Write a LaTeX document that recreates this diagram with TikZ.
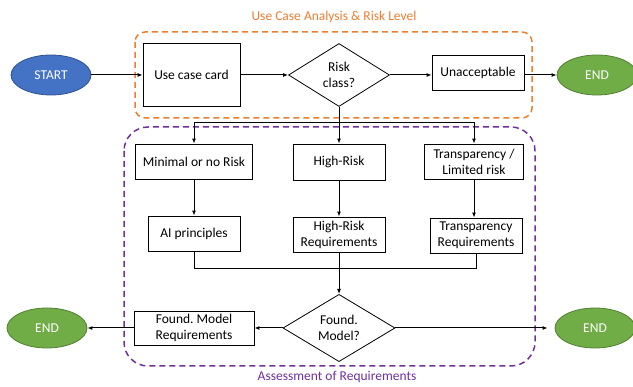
\documentclass[tikz,border=0pt]{standalone}
\usepackage{fontspec}
\setmainfont{Carlito}
\frenchspacing
\usetikzlibrary{shapes.geometric,arrows.meta}
\definecolor{myorange}{HTML}{ED7D31}
\definecolor{mypurple}{HTML}{7030A0}
\definecolor{myblue}{HTML}{4472C4}
\definecolor{myblueb}{HTML}{2F528F}
\definecolor{mygreen}{HTML}{70AD47}
\definecolor{mygreenb}{HTML}{507E32}
\begin{document}
\begin{tikzpicture}[x=1pt,y=-1pt,
  txt/.style={font=\fontsize{13.5}{16}\selectfont},
  box/.style={txt,draw,line width=0.8pt,rectangle,inner sep=0pt,align=center},
  dec/.style={txt,draw,line width=0.8pt,diamond,inner sep=0pt,align=center},
  term/.style={txt,ellipse,line width=0.8pt,inner sep=0pt,minimum width=80pt,minimum height=40pt,text=white},
  startnode/.style={term,fill=myblue,draw=myblueb},
  endnode/.style={term,fill=mygreen,draw=mygreenb},
  arr/.style={line width=1pt,-{Latex[length=5pt,width=4pt]}},
  conn/.style={line width=1pt},
  group/.style={line width=1.5pt,dash pattern=on 6pt off 4pt},
]
\useasboundingbox (0,0) rectangle (633,387);
% groups
\draw[group,draw=myorange,rounded corners=10pt] (135,32) rectangle (532,118);
\draw[group,draw=mypurple,rounded corners=24pt] (124,127) rectangle (535,366);
\node[txt,text=myorange] (t1) at (334,17) {Use Case Analysis \& Risk Level};
\node[txt,text=mypurple] (t2) at (337,377) {Assessment of Requirements};
% top row
\node[startnode] (start) at (51,75) {START};
\node[box,minimum width=97pt,minimum height=63pt] (card) at (191.5,75) {Use case card};
\node[dec,minimum width=101pt,minimum height=63pt] (risk) at (339,75) {Risk\\class?};
\node[box,minimum width=92pt,minimum height=35pt] (unacc) at (478,73) {Unacceptable};
\node[endnode] (end1) at (597,75) {END};
\draw[arr] (start) -- (card);
\draw[arr] (card) -- (risk);
\draw[arr] (risk.east) -- (risk.east -| unacc.west);
\draw[arr] (unacc.east |- end1) -- (end1);
% risk classes
\node[box,minimum width=117pt,minimum height=35pt] (minimal) at (194,161.5) {Minimal or no Risk};
\node[box,minimum width=92pt,minimum height=36pt] (high) at (339,162) {High-Risk};
\node[box,minimum width=99pt,minimum height=35pt] (transp) at (474,161.5) {Transparency /\\Limited risk};
\coordinate (br) at (339,123);
\draw[conn] (risk) -- (br);
\draw[arr] (br) -| (minimal);
\draw[arr] (br) -- (high);
\draw[arr] (br) -| (transp);
% requirements
\node[box,minimum width=92pt,minimum height=35pt] (aip) at (194,233.5) {AI principles};
\node[box,minimum width=92pt,minimum height=35pt] (hreq) at (339,234.5) {High-Risk\\Requirements};
\node[box,minimum width=92pt,minimum height=35pt] (treq) at (476,235.5) {Transparency\\Requirements};
\draw[arr] (minimal) -- (aip);
\draw[arr] (high) -- (hreq);
\draw[arr] (transp.south) -- (transp.south |- treq.north);
% merge
\node[dec,minimum width=112pt,minimum height=62pt] (found) at (339,328) {Found.\\Model?};
\coordinate (mg) at (339,269);
\draw[conn] (aip) |- (mg);
\draw[conn] (treq) |- (mg);
\draw[arr] (hreq) -- (found);
% bottom row
\node[box,minimum width=120pt,minimum height=34pt] (fmreq) at (194,328) {Found. Model\\Requirements};
\node[endnode] (end2) at (47,328) {END};
\node[endnode] (end3) at (595,328) {END};
\draw[arr] (found) -- (fmreq);
\draw[arr] (fmreq) -- (end2);
\draw[arr,shorten >=7pt] (found) -- (end3);
\end{tikzpicture}
\end{document}
